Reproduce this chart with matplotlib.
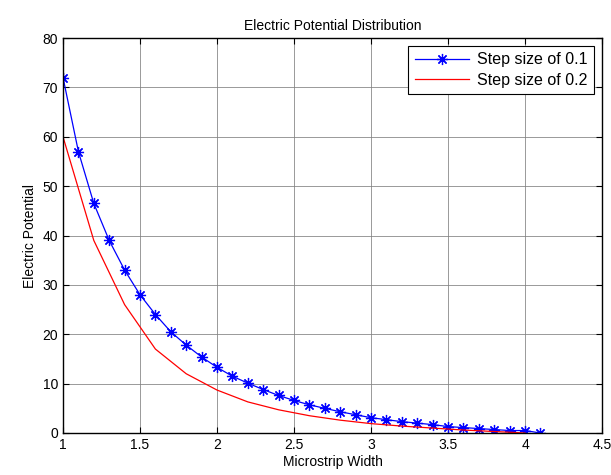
import matplotlib
matplotlib.use("Agg")
import matplotlib.pyplot as plt
import numpy as np

plt.rcParams['font.family'] = ['Liberation Sans', 'DejaVu Sans']

x_fine = [1.0, 1.1, 1.2, 1.3, 1.4, 1.5, 1.6, 1.7, 1.8, 1.9, 2.0, 2.1, 2.2, 2.3, 2.4, 2.5,
          2.6, 2.7, 2.8, 2.9, 3.0, 3.1, 3.2, 3.3, 3.4, 3.5, 3.6, 3.7, 3.8, 3.9, 4.0, 4.1]
v_fine = [72.0, 57.0, 46.5, 39.0, 33.0, 28.0, 24.0, 20.5, 17.8, 15.4, 13.3, 11.5, 10.1, 8.8,
          7.6, 6.6, 5.7, 5.0, 4.3, 3.7, 3.1, 2.7, 2.3, 2.0, 1.7, 1.3, 1.1, 0.9, 0.7, 0.5, 0.5, 0.0]

x_coarse = [1.0, 1.2, 1.4, 1.6, 1.8, 2.0, 2.2, 2.4, 2.6, 2.8, 3.0, 3.2, 3.4, 3.6, 3.8, 4.0]
v_coarse = [60.0, 39.0, 26.0, 17.0, 12.0, 8.7, 6.3, 4.7, 3.5, 2.6, 1.9, 1.4, 1.0, 0.6, 0.3, 0.0]

xticks = [1, 1.5, 2, 2.5, 3, 3.5, 4, 4.5]
yticks = [0, 10, 20, 30, 40, 50, 60, 70, 80]

fig = plt.figure(figsize=(6.11, 4.75), dpi=100)
ax = fig.add_axes([63/611, 42/475, 539/611, 395/475])

ax.plot(x_fine, v_fine, '-', color='blue', marker=(8, 2, 0), markersize=8,
        markeredgewidth=0.9, linewidth=0.9, label='Step size of 0.1')
ax.plot(x_coarse, v_coarse, '-', color='red', linewidth=0.9, label='Step size of 0.2')

ax.set_xlim(1, 4.5)
ax.set_ylim(0, 80)
ax.set_xticks(xticks)
ax.set_xticklabels(['1', '1.5', '2', '2.5', '3', '3.5', '4', '4.5'])
ax.set_yticks(yticks)
ax.grid(True, color='#808080', linewidth=0.7, alpha=0.8)
ax.tick_params(direction='in', top=True, right=True, labelsize=10, length=4, width=0.8)
for s in ax.spines.values():
    s.set_linewidth(1.0)

ax.set_title('Electric Potential Distribution', fontsize=10, pad=6)
ax.set_xlabel('Microstrip Width', fontsize=10, labelpad=2)
ax.set_ylabel('Electric Potential', fontsize=10, labelpad=4)

leg = ax.legend(loc='upper right', fontsize=11.5, fancybox=False, framealpha=1,
                edgecolor='black', borderaxespad=0.5, handlelength=3.4, borderpad=0.4,
                labelspacing=0.35, handletextpad=0.5)
leg.get_frame().set_linewidth(0.8)

fig.savefig('out.png', dpi=100)
